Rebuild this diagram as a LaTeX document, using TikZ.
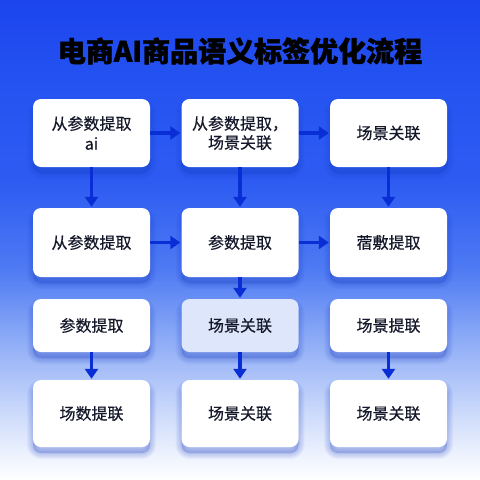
\documentclass[tikz,border=0pt]{standalone}
\usepackage{fontspec}
\setmainfont{Noto Sans CJK SC}[FakeBold=0.4, BoldFeatures={FakeBold=1.6}]
\usetikzlibrary{arrows.meta}
\definecolor{bgF}{HTML}{1C45EE}
\definecolor{bgE}{HTML}{2553F1}
\definecolor{bgD}{HTML}{2E5CF2}
\definecolor{bgC}{HTML}{4E7AF3}
\definecolor{bgB}{HTML}{8AA9F6}
\definecolor{bgA}{HTML}{C4D4FA}
\definecolor{bgW}{HTML}{EEF3FE}
\definecolor{arrowblue}{HTML}{0A2ED6}
\definecolor{shadowblue}{HTML}{1E40C8}
\definecolor{txt}{HTML}{15182A}
\definecolor{hilite}{HTML}{DDE6FB}
\pgfdeclareverticalshading{bgshade}{100bp}{color(0bp)=(white); color(25bp)=(white); color(27.5bp)=(bgW); color(33bp)=(bgA); color(40bp)=(bgB); color(47bp)=(bgC); color(56bp)=(bgD); color(66bp)=(bgE); color(75bp)=(bgF); color(100bp)=(bgF)}
\tikzset{
  sh/.style={preaction={draw=shadowblue, fill=shadowblue, line width=#1, opacity=0.045, transform canvas={yshift=-6pt}}},
  box/.style={draw=none, fill=white, rounded corners=8pt, minimum width=117pt,
    text=txt, font=\fontsize{16pt}{19pt}\selectfont, align=center, inner sep=0pt,
    sh=12pt, sh=10pt, sh=8pt, sh=6pt, sh=4pt, sh=2pt},
  flow/.style={draw=arrowblue, line width=3.4pt, -{Triangle[width=13pt,length=10pt]}, shorten >=1pt},
}
\begin{document}
\begin{tikzpicture}[x=1pt,y=-1pt]
\useasboundingbox (0,0) rectangle (480,480);
\fill[shading=bgshade] (0,0) rectangle (480,480);
\node[text=black] (title) at (240,51) {\fontsize{28pt}{30pt}\selectfont\bfseries 电商AI商品语义标签优化流程};
% row 1
\node[box, minimum height=68pt] (a1) at (91.5,133) {从参数提取\\[1pt]ai};
\node[box, minimum height=68pt] (b1) at (240,133) {从参数提取，\\场景关联};
\node[box, minimum height=68pt] (c1) at (388.5,133) {场景关联};
% row 2
\node[box, minimum height=69pt] (a2) at (91.5,242.5) {从参数提取};
\node[box, minimum height=69pt] (b2) at (240,242.5) {参数提取};
\node[box, minimum height=69pt] (c2) at (388.5,242.5) {蓿敷提取};
% row 3
\node[box, minimum height=53pt] (a3) at (91.5,325.5) {参数提取};
\node[box, minimum height=53pt, fill=hilite] (b3) at (240,325.5) {场景关联};
\node[box, minimum height=53pt] (c3) at (388.5,325.5) {场景提联};
% row 4
\node[box, minimum height=67pt] (a4) at (91.5,413.5) {场数提联};
\node[box, minimum height=67pt] (b4) at (240,413.5) {场景关联};
\node[box, minimum height=67pt] (c4) at (388.5,413.5) {场景关联};
% arrows
\draw[flow] (a1) -- (b1);
\draw[flow] (b1) -- (c1);
\draw[flow] (a2) -- (b2);
\draw[flow] (b2) -- (c2);
\draw[flow] (a1) -- (a2);
\draw[flow] (b1) -- (b2);
\draw[flow] (c1) -- (c2);
\draw[flow] (b2) -- (b3);
\draw[flow] (a3) -- (a4);
\draw[flow] (b3) -- (b4);
\draw[flow] (c3) -- (c4);
\end{tikzpicture}
\end{document}
